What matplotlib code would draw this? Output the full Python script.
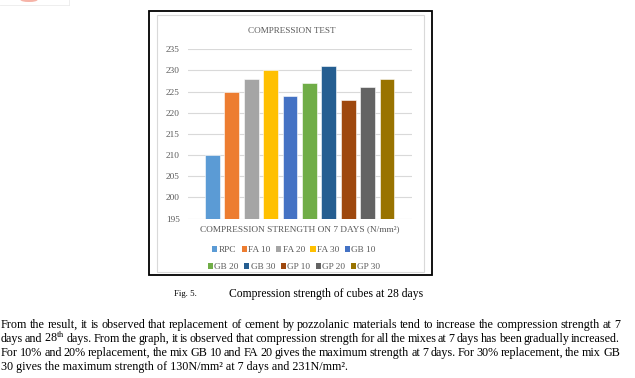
import matplotlib
matplotlib.use("Agg")
import matplotlib.pyplot as plt
from matplotlib.patches import Rectangle, Ellipse

# --- data ---
mixes = ["RPC", "FA 10", "FA 20", "FA 30", "GB 10",
         "GB 20", "GB 30", "GP 10", "GP 20", "GP 30"]
strength = [210, 225, 228, 230, 224, 227, 231, 223, 226, 228]
colors = ["#5B9BD5", "#ED7D31", "#A5A5A5", "#FFC000", "#4472C4",
          "#70AD47", "#255E91", "#9E480E", "#636363", "#997300"]
y_ticks = [195, 200, 205, 210, 215, 220, 225, 230, 235]

title = "COMPRESSION TEST"
xlabel = "COMPRESSION STRENGTH ON 7 DAYS (N/mm²)"
caption_num = "Fig. 5."
caption = "Compression strength of cubes at 28 days"
paragraph = [
    "From the result, it is observed that replacement of cement by pozzolanic materials tend to increase the compression strength at 7",
    "days and 28$^{\\mathrm{th}}$ days. From the graph, it is observed that compression strength for all the mixes at 7 days has been gradually increased.",
    "For 10% and 20% replacement, the mix GB 10 and FA 20 gives the maximum strength at 7 days. For 30% replacement, the mix GB",
    "30 gives the maximum strength of 130N/mm² at 7 days and 231N/mm².",
]

plt.rcParams["font.family"] = ["Liberation Serif", "DejaVu Serif"]
plt.rcParams["mathtext.fontset"] = "stix"

W, H = 635, 378
fig = plt.figure(figsize=(W / 100, H / 100), dpi=100)


def fx(px):
    return px / W


def fy(py):
    return 1 - py / H


grey = "#595959"

# frame around the chart (black outer, light grey inner)
fig.patches.append(Rectangle((fx(149), fy(275)), fx(432 - 149), (275 - 10.7) / H,
                             transform=fig.transFigure, fill=False,
                             edgecolor="black", lw=1.3))
fig.patches.append(Rectangle((fx(157), fy(272)), fx(424 - 157), (272 - 15) / H,
                             transform=fig.transFigure, fill=False,
                             edgecolor="#D9D9D9", lw=0.8))
# leftover of the previous figure at the top-left corner
fig.patches.append(Ellipse((fx(29), fy(0)), fx(17), 4 / H,
                           transform=fig.transFigure, color="#F6B3A7", lw=0))
fig.add_artist(plt.Line2D([0, fx(69)], [fy(5), fy(5)], color="#EBEBEB", lw=0.6))
fig.add_artist(plt.Line2D([fx(69), fx(69)], [fy(5), 1], color="#EBEBEB", lw=0.6))

# --- plot ---
ax = fig.add_axes([fx(188), fy(218.5), fx(412 - 188), (218.5 - 49.3) / H])
x = list(range(len(mixes)))
bars = ax.bar(x, strength, width=0.77, color=colors, edgecolor="white",
              linewidth=0.4, zorder=3)
ax.set_xlim(-1.26, 10.29)
ax.set_ylim(195, 235)
ax.set_yticks(y_ticks)
ax.set_yticklabels([str(v) for v in y_ticks], fontsize=6.7, color=grey)
ax.set_xticks([])
ax.tick_params(axis="y", length=0, pad=6)
for s in ax.spines.values():
    s.set_visible(False)
ax.grid(axis="y", color="#D9D9D9", lw=0.8, zorder=0)
ax.set_axisbelow(True)

fig.text(fx(291.7), fy(30.7), title, ha="center", va="center",
         fontsize=6.6, color=grey)
fig.text(fx(300), fy(229), xlabel, ha="center", va="center",
         fontsize=6.7, color=grey)

# legend in two rows, like the Excel one
for row, yc in ((0, 250), (1, 267)):
    hs = bars.patches[row * 5:(row + 1) * 5]
    lb = mixes[row * 5:(row + 1) * 5]
    leg = fig.legend(hs, lb, loc="center", bbox_to_anchor=(fx(294), fy(yc)),
                     ncol=5, frameon=False, fontsize=6.7, handlelength=0.55,
                     handleheight=0.55, handletextpad=0.15, columnspacing=0.6,
                     borderpad=0, labelcolor=grey)
    for h in leg.legend_handles:
        h.set_edgecolor("none")

# --- caption and text below ---
fig.text(fx(174), fy(294), caption_num, ha="left", va="center", fontsize=6.3)
fig.text(fx(229), fy(294), caption, ha="left", va="center", fontsize=8.35)

renderer = fig.canvas.get_renderer()


def text_width(s, size):
    t = fig.text(0, 0, s, fontsize=size)
    w = t.get_window_extent(renderer).width
    t.remove()
    return w


x0, x1 = 1, 620
# size the body text so the first (full) line fills the text column
fs = 10 * (x1 - x0) / text_width(paragraph[0], 10)
baselines = [328, 342, 356, 370]  # whole pixels keep the words on one baseline
for i, (line, yb) in enumerate(zip(paragraph, baselines)):
    if i == len(paragraph) - 1:
        fig.text(fx(x0), fy(yb), line, ha="left", va="baseline", fontsize=fs)
        continue
    words = line.split(" ")
    widths = [text_width(w, fs) for w in words]
    gap = (x1 - x0 - sum(widths)) / (len(words) - 1)
    xp = x0
    for w, wd in zip(words, widths):
        fig.text(fx(xp), fy(yb), w, ha="left", va="baseline", fontsize=fs)
        xp += wd + gap

fig.savefig("out.png", dpi=100)
